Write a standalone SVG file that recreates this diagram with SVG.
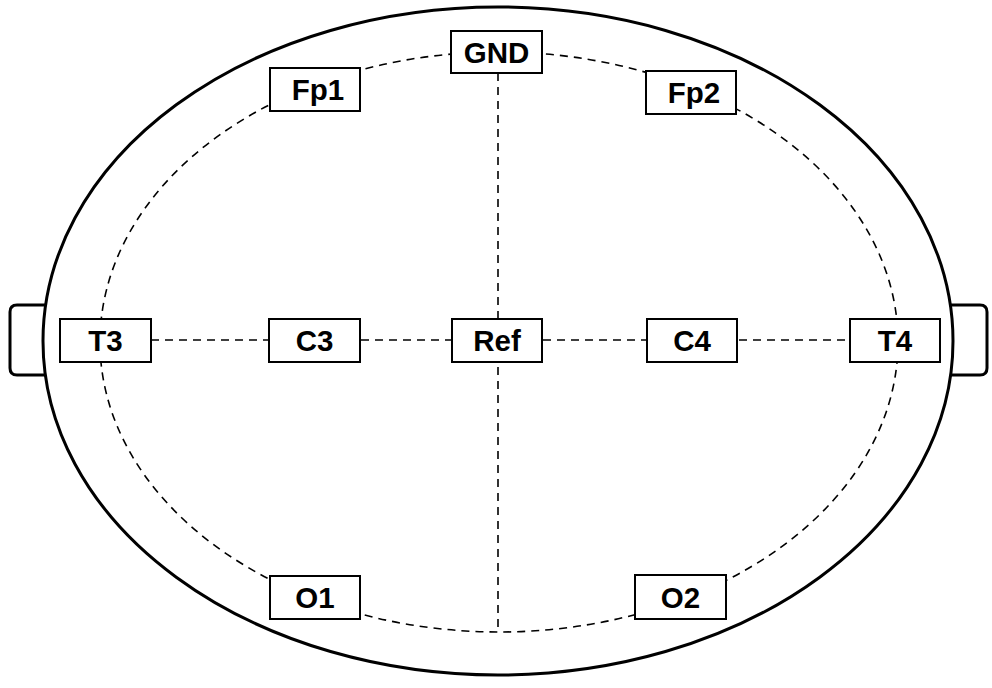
<svg xmlns="http://www.w3.org/2000/svg" width="992" height="688" viewBox="0 0 992 688">
<style>
.head{fill:#fff;stroke:#000;stroke-width:3}
.ear{fill:#fff;stroke:#000;stroke-width:3}
.dash{fill:none;stroke:#000;stroke-width:1.6;stroke-dasharray:8 6}
.box{fill:#fff;stroke:#000;stroke-width:2}
.lbl{font-family:"Liberation Sans",Arial,sans-serif;font-weight:bold;font-size:29.5px;text-anchor:middle;fill:#000}
</style>
<rect width="992" height="688" fill="#fff"/>
<g id="head">
<path class="ear" d="M 50 305 L 17 305 Q 10 305 10 312 L 10 368 Q 10 375 17 375 L 50 375"/>
<path class="ear" d="M 946 305 L 980 305 Q 987 305 987 312 L 987 368 Q 987 375 980 375 L 946 375"/>
<ellipse class="head" cx="498" cy="341" rx="455" ry="334"/>
</g>
<g id="connectors">
<ellipse class="dash" cx="499" cy="342" rx="399" ry="290"/>
<line class="dash" x1="498" y1="73" x2="498" y2="632"/>
<line class="dash" x1="151" y1="340" x2="850" y2="340"/>
</g>
<g id="GND"><rect class="box" x="451" y="31" width="91" height="42"/><text class="lbl" x="496.5" y="62.5">GND</text></g>
<g id="Fp1"><rect class="box" x="270" y="68" width="90" height="43"/><text class="lbl" x="318" y="100">Fp1</text></g>
<g id="Fp2"><rect class="box" x="646" y="71" width="90" height="43"/><text class="lbl" x="694" y="103">Fp2</text></g>
<g id="T3"><rect class="box" x="60" y="319" width="91" height="43"/><text class="lbl" x="105.5" y="351">T3</text></g>
<g id="C3"><rect class="box" x="269" y="319" width="91" height="43"/><text class="lbl" x="314.5" y="351">C3</text></g>
<g id="Ref"><rect class="box" x="452" y="319" width="90" height="43"/><text class="lbl" x="497" y="351">Ref</text></g>
<g id="C4"><rect class="box" x="647" y="319" width="90" height="43"/><text class="lbl" x="692" y="351">C4</text></g>
<g id="T4"><rect class="box" x="850" y="319" width="90" height="43"/><text class="lbl" x="895" y="351">T4</text></g>
<g id="O1"><rect class="box" x="270" y="576" width="90" height="43"/><text class="lbl" x="315" y="608">O1</text></g>
<g id="O2"><rect class="box" x="635" y="575" width="91" height="44"/><text class="lbl" x="680.5" y="607.5">O2</text></g>
</svg>
